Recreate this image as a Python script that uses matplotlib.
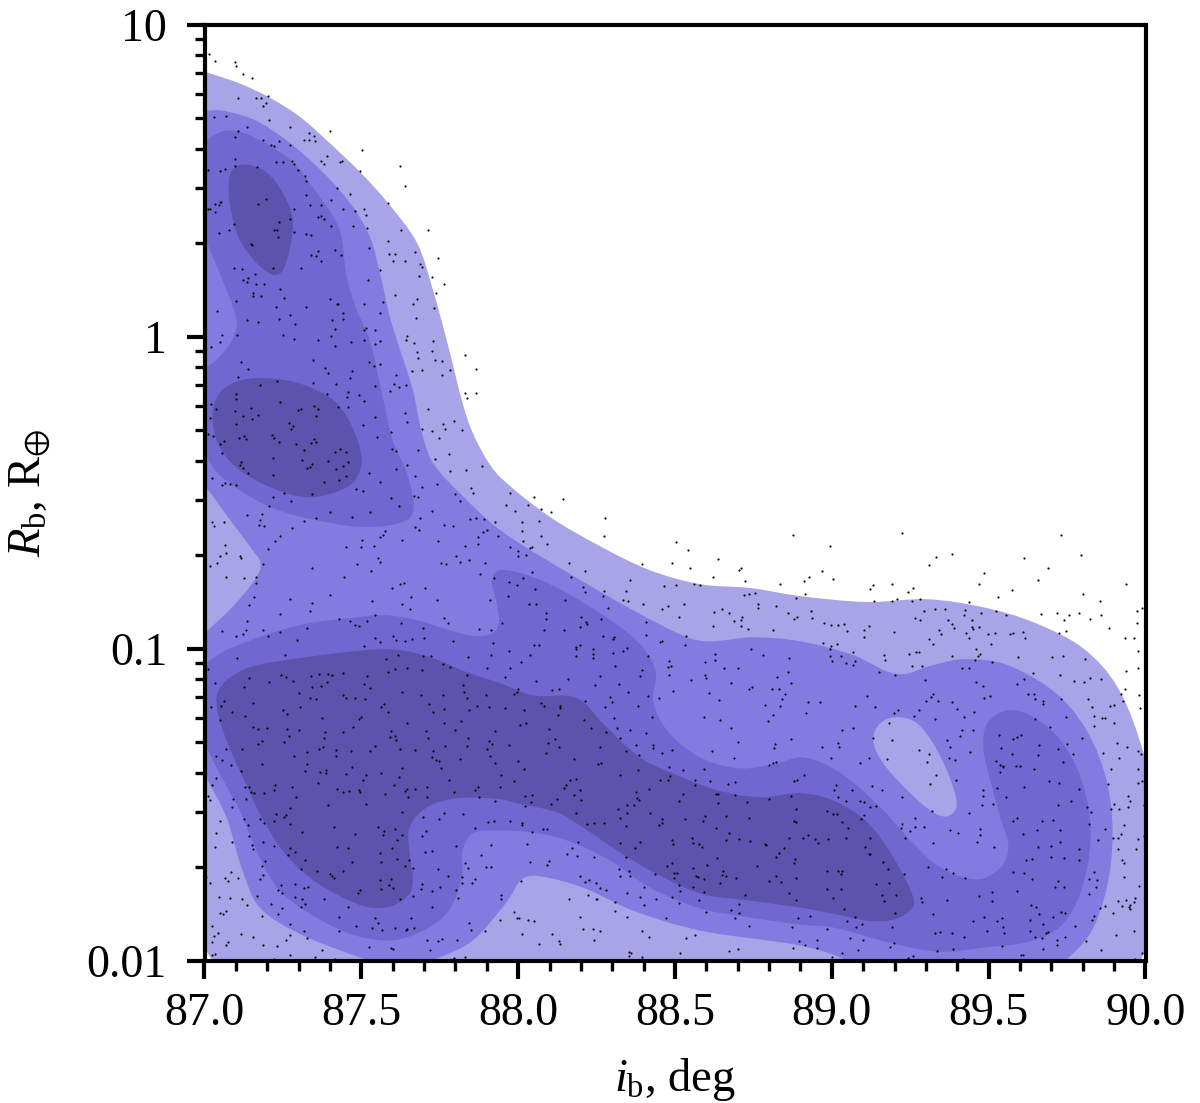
"""Inclination vs planet radius density map with posterior samples."""

import matplotlib

matplotlib.use("Agg")
import matplotlib.pyplot as plt
import numpy as np
from matplotlib.patches import PathPatch
from matplotlib.path import Path
from matplotlib.ticker import LogLocator, MultipleLocator, NullFormatter

plt.rcParams["font.family"] = ["Liberation Serif", "DejaVu Serif"]
plt.rcParams["mathtext.fontset"] = "custom"
plt.rcParams["mathtext.rm"] = "Liberation Serif"
plt.rcParams["mathtext.it"] = "Liberation Serif:italic"
plt.rcParams["mathtext.fallback"] = "stix"

# outlines are (inclination deg, log10 radius)
level1_outline = [(86.936,.868),(87.0,.849),(87.112,.811),(87.207,.766),(87.303,.705),(87.399,.62),(87.495,.528),(87.584,.429),(87.677,.301),(87.728,.15),(87.772,-.011),(87.836,-.258),(87.887,-.373),(87.942,-.45),(88.101,-.578),(88.261,-.672),(88.42,-.749),(88.58,-.794),(88.739,-.806),(88.899,-.832),(89.113,-.851),(89.304,-.842),(89.483,-.868),(89.643,-.916),(89.802,-1.0),(89.911,-1.124),(89.994,-1.336),(90.016,-1.487),(90.019,-1.679),(90.006,-1.888),(89.987,-1.994),(89.92,-2.039),(88.899,-2.048),(87.622,-2.048),(87.064,-2.039),(87.022,-1.994),(87.003,-1.962),(86.952,-1.808),(86.936,-.524)]
level2_outline = [(86.952,.724),(87.003,.724),(87.057,.724),(87.176,.686),(87.335,.567),(87.463,.429),(87.527,.32),(87.559,.204),(87.591,.063),(87.613,-.011),(87.664,-.171),(87.693,-.309),(87.728,-.405),(87.814,-.502),(87.942,-.62),(88.155,-.755),(88.366,-.877),(88.538,-.964),(88.612,-.977),(88.749,-.964),(88.899,-.977),(89.068,-1.021),(89.209,-1.082),(89.323,-1.053),(89.419,-1.034),(89.56,-1.053),(89.729,-1.156),(89.834,-1.304),(89.888,-1.487),(89.888,-1.702),(89.834,-1.894),(89.751,-1.994),(89.665,-2.048),(89.122,-2.048),(89.036,-1.994),(88.899,-1.952),(88.58,-1.904),(88.366,-1.84),(88.206,-1.766),(88.069,-1.73),(88.015,-1.737),(87.973,-1.798),(87.942,-1.84),(87.855,-1.936),(87.75,-1.99),(87.622,-2.026),(87.495,-1.99),(87.303,-1.914),(87.176,-1.83),(87.121,-1.711),(87.07,-1.541),(87.006,-1.413),(86.952,-1.294),(86.936,-.203)]
wedge_outline = [(86.952,-.428),(87.006,-.485),(87.089,-.598),(87.153,-.684),(87.179,-.726),(87.166,-.771),(87.089,-.867),(87.006,-.947),(86.952,-1.005),(86.904,-.717)]
island_outline = [(89.132,-1.294),(89.154,-1.24),(89.209,-1.22),(89.272,-1.24),(89.336,-1.327),(89.387,-1.445),(89.397,-1.509),(89.368,-1.538),(89.323,-1.525),(89.25,-1.464),(89.164,-1.368)]
level3_upper = [(86.952,.567),(87.003,.625),(87.07,.66),(87.153,.641),(87.271,.567),(87.367,.448),(87.431,.342),(87.453,.191),(87.485,.086),(87.527,-.011),(87.568,-.194),(87.6,-.332),(87.645,-.438),(87.667,-.547),(87.645,-.589),(87.517,-.611),(87.357,-.589),(87.217,-.55),(87.112,-.492),(87.038,-.434),(87.006,-.386),(86.952,-.3),(86.952,-.155),(87.006,-.101),(87.048,-.065),(87.089,-.011),(87.102,.053),(87.048,.204),(87.003,.31),(86.952,.422)]
level3_lower = [(86.952,-1.102),(87.006,-1.047),(87.089,-.996),(87.303,-.925),(87.463,-.903),(87.568,-.893),(87.677,-.909),(87.814,-.951),(87.887,-.96),(87.935,-.932),(87.932,-.855),(87.916,-.781),(87.942,-.749),(88.047,-.771),(88.155,-.822),(88.261,-.887),(88.347,-.948),(88.411,-1.015),(88.439,-1.08),(88.43,-1.167),(88.475,-1.263),(88.58,-1.349),(88.707,-1.384),(88.826,-1.368),(88.899,-1.349),(88.972,-1.368),(89.059,-1.422),(89.164,-1.519),(89.26,-1.625),(89.346,-1.702),(89.464,-1.74),(89.537,-1.702),(89.563,-1.637),(89.537,-1.541),(89.505,-1.422),(89.483,-1.317),(89.496,-1.24),(89.56,-1.198),(89.643,-1.22),(89.729,-1.294),(89.793,-1.413),(89.825,-1.573),(89.802,-1.753),(89.738,-1.881),(89.643,-1.936),(89.483,-1.959),(89.346,-1.972),(89.196,-1.946),(89.004,-1.894),(88.899,-1.885),(88.739,-1.862),(88.58,-1.833),(88.42,-1.766),(88.293,-1.679),(88.155,-1.615),(88.047,-1.59),(87.942,-1.583),(87.855,-1.593),(87.823,-1.647),(87.82,-1.734),(87.772,-1.849),(87.677,-1.914),(87.581,-1.936),(87.463,-1.914),(87.335,-1.849),(87.239,-1.775),(87.176,-1.67),(87.112,-1.519),(87.048,-1.4),(87.006,-1.317),(86.952,-1.214)]
level4_top = [(87.077,.47),(87.089,.535),(87.134,.551),(87.198,.525),(87.249,.461),(87.281,.374),(87.271,.278),(87.246,.207),(87.217,.198),(87.166,.236),(87.112,.31),(87.086,.397)]
level4_mid = [(87.026,-.258),(87.048,-.181),(87.121,-.139),(87.23,-.136),(87.335,-.162),(87.421,-.213),(87.479,-.309),(87.501,-.405),(87.472,-.469),(87.409,-.502),(87.326,-.515),(87.217,-.486),(87.112,-.428),(87.048,-.354)]
level4_band = [(87.041,-1.143),(87.07,-1.102),(87.144,-1.06),(87.303,-1.031),(87.517,-1.005),(87.622,-1.005),(87.728,-1.031),(87.836,-1.076),(87.942,-1.111),(88.047,-1.15),(88.187,-1.159),(88.27,-1.24),(88.388,-1.349),(88.506,-1.406),(88.634,-1.454),(88.771,-1.477),(88.899,-1.464),(89.004,-1.487),(89.113,-1.557),(89.196,-1.67),(89.26,-1.798),(89.256,-1.833),(89.196,-1.869),(89.113,-1.872),(89.004,-1.85),(88.899,-1.83),(88.739,-1.808),(88.58,-1.785),(88.42,-1.711),(88.315,-1.647),(88.206,-1.573),(88.123,-1.525),(87.996,-1.496),(87.942,-1.483),(87.804,-1.48),(87.709,-1.509),(87.654,-1.573),(87.654,-1.657),(87.664,-1.734),(87.654,-1.785),(87.6,-1.824),(87.527,-1.83),(87.441,-1.798),(87.335,-1.734),(87.249,-1.647),(87.176,-1.528),(87.112,-1.39),(87.07,-1.294),(87.041,-1.198)]

samples_upper = [(87.013,.907),(87.035,.882),(87.096,.879),(87.102,.866),(87.124,.84),(87.15,.827),(87.204,.772),(87.108,.763),(87.163,.763),(87.179,.763),(87.195,.747),(87.188,.74),(87.067,.708),(87.029,.702),(87.207,.695),(87.274,.67),(87.134,.67),(87.108,.66),(87.399,.66),(87.096,.641),(87.332,.651),(87.348,.644),(87.316,.631),(87.332,.631),(87.351,.628),(87.185,.631),(87.239,.628),(87.211,.615),(87.22,.609),(87.274,.615),(87.501,.599),(87.096,.57),(87.389,.577),(87.37,.561),(87.38,.554),(87.437,.564),(87.431,.558),(87.227,.558),(87.249,.558),(87.278,.561),(87.284,.554),(87.096,.548),(87.622,.548),(87.297,.535),(87.166,.542),(87.01,.535),(87.048,.529),(87.064,.538),(87.495,.529),(87.319,.513),(87.322,.5),(87.424,.477),(87.638,.481),(87.463,.458),(87.322,.452),(87.195,.442),(87.054,.432),(87.048,.432),(87.035,.426),(87.045,.42),(87.169,.426),(87.335,.423),(87.402,.436),(87.584,.429),(87.373,.42),(87.01,.41),(87.016,.41),(87.032,.4),(87.284,.41),(87.44,.41),(87.51,.41),(87.479,.403),(87.514,.391),(87.361,.384),(87.373,.387),(87.38,.378),(87.271,.378),(87.239,.368),(87.093,.362),(87.402,.355),(87.475,.355),(87.517,.349),(87.22,.342),(87.23,.342),(87.284,.336),(87.077,.342),(87.625,.342),(87.711,.342),(87.045,.333),(87.325,.33),(87.338,.326),(87.233,.32),(87.584,.307),(87.147,.298),(87.153,.294),(87.523,.285),(87.415,.278),(87.361,.275),(87.606,.265),(87.587,.265),(87.67,.272),(87.341,.262),(87.354,.259),(87.434,.262),(87.743,.253),(87.6,.243),(87.638,.243),(87.373,.243),(87.686,.233),(87.695,.224),(87.093,.221),(87.217,.221),(87.118,.217),(87.309,.221),(87.561,.214),(87.683,.195),(87.724,.192),(87.16,.201),(87.14,.188),(87.124,.182),(87.137,.176),(87.52,.182),(87.163,.169),(87.191,.169),(87.765,.169),(87.242,.153),(87.737,.14),(87.156,.14),(87.156,.131),(87.179,.131),(87.606,.134),(87.255,.124),(87.399,.121),(87.679,.121),(87.099,.115),(87.568,.111),(87.664,.105),(87.421,.105),(87.427,.105),(87.507,.105),(87.322,.095),(87.227,.095),(87.731,.092),(87.041,.082),(87.443,.076),(87.558,.076),(87.271,.07),(87.239,.057),(87.443,.057),(87.405,.054),(87.673,.06),(87.134,.054),(87.169,.047),(87.287,.041),(87.514,.028),(87.507,.022),(87.545,.022),(87.415,.025),(87.057,.005),(87.105,.005),(87.249,.005),(87.402,.002),(87.644,.002),(87.641,-.011),(87.284,-.007),(87.361,-.011),(87.51,-.011),(87.727,-.014),(87.048,-.017),(87.466,-.017),(87.558,-.014),(87.542,-.023),(87.667,-.02),(87.415,-.03),(87.022,-.033)]
samples_left = [(87.829,-.059),(87.866,-.105),(87.832,-.182),(87.865,-.182),(87.837,-.196),(87.677,-.051),(87.724,-.048),(87.68,-.07),(87.736,-.075),(87.758,-.078),(87.663,-.111),(87.692,-.108),(87.783,-.108),(87.757,-.123),(87.612,-.123),(87.603,-.151),(87.643,-.155),(87.621,-.162),(87.592,-.175),(87.544,-.16),(87.525,-.082),(87.558,-.087),(87.541,-.094),(87.346,-.074),(87.384,-.102),(87.394,-.117),(87.471,-.112),(87.464,-.133),(87.42,-.152),(87.345,-.148),(87.456,-.177),(87.453,-.194),(87.392,-.184),(87.491,-.188),(87.507,-.207),(87.459,-.226),(87.427,-.226),(87.117,-.081),(87.14,-.104),(87.108,-.13),(87.231,-.142),(87.177,-.154),(87.099,-.184),(87.099,-.199),(87.241,-.209),(87.022,-.216),(87.037,-.231),(87.098,-.238),(87.149,-.229),(87.298,-.235),(87.309,-.231),(87.349,-.223),(87.362,-.232),(87.357,-.254),(87.124,-.255),(87.17,-.251),(87.153,-.265),(87.017,-.262),(87.099,-.281),(87.268,-.276),(87.281,-.286),(87.275,-.297),(87.542,-.259),(87.505,-.285),(87.594,-.305),(87.639,-.245),(87.645,-.273),(87.711,-.232),(87.695,-.297),(87.726,-.302),(87.759,-.28),(87.795,-.27),(87.768,-.297),(87.821,-.3),(87.748,-.325),(87.01,-.313),(87.027,-.319),(87.061,-.335),(87.109,-.325),(87.126,-.319),(87.133,-.328),(87.215,-.316),(87.222,-.325),(87.239,-.337),(87.293,-.344),(87.348,-.329),(87.355,-.338),(87.34,-.342),(87.316,-.364),(87.551,-.323),(87.598,-.359),(87.612,-.366),(87.682,-.364),(87.781,-.377),(87.736,-.394),(87.05,-.346),(87.057,-.373),(87.415,-.371),(87.433,-.36),(87.45,-.371),(87.217,-.39),(87.311,-.397),(87.393,-.4),(87.458,-.403),(87.117,-.403),(87.112,-.413),(87.123,-.422),(87.139,-.436),(87.342,-.408),(87.336,-.417),(87.327,-.421),(87.418,-.426),(87.443,-.414),(87.645,-.411),(87.611,-.426),(87.784,-.432),(87.834,-.428),(87.886,-.414),(87.218,-.443),(87.526,-.436),(87.45,-.448),(87.025,-.455),(87.382,-.466),(87.43,-.461),(87.561,-.467),(87.672,-.448),(87.741,-.473),(87.693,-.481),(87.064,-.469),(87.057,-.475),(87.08,-.472),(87.099,-.475),(87.483,-.489),(87.506,-.495),(87.344,-.504),(87.252,-.503),(87.219,-.513),(87.85,-.485),(87.856,-.502),(87.799,-.505),(87.668,-.511),(87.682,-.515),(87.593,-.517),(87.276,-.526),(87.816,-.528),(87.619,-.543),(87.207,-.544),(87.724,-.559),(87.399,-.561),(87.528,-.562),(87.136,-.572),(87.184,-.57),(87.469,-.577),(87.357,-.582),(87.317,-.59),(87.176,-.589),(87.175,-.604),(87.189,-.607),(87.063,-.594),(87.025,-.594),(87.031,-.606),(87.28,-.614),(87.688,-.582),(87.848,-.585),(87.867,-.582),(87.892,-.586),(87.927,-.596),(87.763,-.604),(87.791,-.608),(87.67,-.61),(87.685,-.619),(87.576,-.622),(87.57,-.636),(87.559,-.644),(87.242,-.641),(87.224,-.656),(87.902,-.621),(87.889,-.628),(87.872,-.643),(87.873,-.666),(87.935,-.64),(87.63,-.653),(87.503,-.653),(87.746,-.655),(87.832,-.67),(87.204,-.682),(87.452,-.675),(87.5,-.675),(87.539,-.672),(87.066,-.667),(87.067,-.695),(87.05,-.705),(87.112,-.703),(87.115,-.711),(87.552,-.709),(87.561,-.724),(87.803,-.704),(87.813,-.723),(87.755,-.726),(87.769,-.73),(87.843,-.717),(87.893,-.727),(87.039,-.727),(87.016,-.735),(87.185,-.73),(87.343,-.742),(87.485,-.729),(87.53,-.75),(87.877,-.76),(87.923,-.774),(87.069,-.771),(87.126,-.774),(87.163,-.77),(87.446,-.772),(87.164,-.791),(87.622,-.794),(87.636,-.789),(87.599,-.807),(87.703,-.806),(87.159,-.836),(87.272,-.842),(87.4,-.827),(87.658,-.835),(87.742,-.846),(87.909,-.846),(87.533,-.849),(87.344,-.855),(87.143,-.861),(87.631,-.857),(87.655,-.872),(87.335,-.879),(87.241,-.889),(87.545,-.892),(87.428,-.907),(87.465,-.912),(87.519,-.913),(87.765,-.902),(87.777,-.918),(87.628,-.918),(87.481,-.926),(87.491,-.928),(87.136,-.913),(87.327,-.935),(87.875,-.937),(87.697,-.934),(87.914,-.942),(87.056,-.944),(87.131,-.942),(87.188,-.941),(87.242,-.948),(87.123,-.953),(87.101,-.96),(87.201,-.96),(87.601,-.961),(87.545,-.965),(87.294,-.973),(87.561,-.979),(87.612,-.973),(87.64,-.975),(87.663,-.968),(87.7,-.967),(87.791,-.977),(87.919,-.983),(87.507,-.992)]
samples_centre = [(88.049,-.514),(88.144,-.522),(87.974,-.502),(87.96,-.541),(88.032,-.539),(88.074,-.553),(88.106,-.562),(87.991,-.559),(88.278,-.582),(88.065,-.59),(88.011,-.594),(88.012,-.623),(88.074,-.639),(88.273,-.64),(88.014,-.655),(88.093,-.665),(88.504,-.659),(88.541,-.685),(88.875,-.637),(88.637,-.713),(87.973,-.675),(88.037,-.678),(88.045,-.675),(87.998,-.687),(88.0,-.704),(88.024,-.7),(88.161,-.727),(88.394,-.73),(88.49,-.725),(88.547,-.743),(88.712,-.741),(88.705,-.749),(88.214,-.751),(88.044,-.755),(88.62,-.771),(88.167,-.771),(88.355,-.781),(88.724,-.784),(87.972,-.787),(88.016,-.775),(87.997,-.797),(88.835,-.794),(88.562,-.794),(88.581,-.795),(88.504,-.796),(88.466,-.8),(88.206,-.804),(88.055,-.809),(88.275,-.815),(88.214,-.82),(88.344,-.816),(88.721,-.83),(88.737,-.825),(88.756,-.823),(87.968,-.833),(88.269,-.832),(88.887,-.838),(88.149,-.846),(88.333,-.846),(88.351,-.848),(88.033,-.857),(88.058,-.856),(88.397,-.857),(88.529,-.856),(88.764,-.856),(88.821,-.864),(88.285,-.869),(88.459,-.872),(88.479,-.865),(88.764,-.87),(88.623,-.884),(88.649,-.874),(88.671,-.887),(88.859,-.885),(88.09,-.885),(88.2,-.9),(88.512,-.898),(88.715,-.9),(88.889,-.899),(88.879,-.907),(88.09,-.906),(88.263,-.904),(88.689,-.913),(88.709,-.91),(87.95,-.919),(88.215,-.916),(88.218,-.923),(88.409,-.916),(88.62,-.928),(88.71,-.929),(88.196,-.931),(88.081,-.94),(88.147,-.94),(88.732,-.939),(88.813,-.94),(88.269,-.959),(88.307,-.963),(88.303,-.97),(88.409,-.958),(88.534,-.961),(88.46,-.975),(88.451,-.98),(88.531,-.99),(88.049,-.99),(88.065,-.99),(88.198,-.99),(88.183,-.994),(88.183,-1.003),(88.24,-1.0),(88.346,-.999),(88.741,-1.003),(87.97,-1.007),(88.333,-1.008),(88.302,-1.013),(88.627,-1.019),(88.037,-1.021),(88.237,-1.019),(88.237,-1.03),(88.183,-1.025),(88.415,-1.024),(88.78,-1.022),(88.865,-1.032),(88.628,-1.036),(88.48,-1.039),(88.595,-1.044),(88.008,-1.044),(88.308,-1.055),(88.486,-1.056),(88.478,-1.06),(88.702,-1.061),(88.656,-1.063),(87.973,-1.063),(88.396,-1.069),(88.859,-1.074),(88.48,-1.085),(88.387,-1.087),(88.595,-1.086),(88.599,-1.096),(88.26,-1.088),(87.959,-1.092),(88.826,-1.09),(88.159,-1.098),(88.057,-1.104),(88.551,-1.1),(88.677,-1.11),(88.869,-1.112),(88.244,-1.116),(88.321,-1.114),(88.747,-1.122),(88.737,-1.129),(88.808,-1.13),(88.831,-1.129),(88.0,-1.13),(88.129,-1.129),(88.109,-1.132),(88.493,-1.136),(88.349,-1.139),(87.997,-1.141),(87.987,-1.146),(88.609,-1.142),(88.851,-1.147),(88.293,-1.154),(88.413,-1.153),(88.449,-1.158),(88.842,-1.161),(88.641,-1.166),(88.214,-1.167),(88.298,-1.172),(88.072,-1.175),(88.133,-1.183),(88.083,-1.185),(88.132,-1.191),(88.787,-1.182),(88.835,-1.185),(88.382,-1.184),(88.278,-1.189),(87.958,-1.192)]
samples_lower_left = [(87.105,-1.032),(87.257,-1.022),(87.616,-1.02),(87.579,-1.035),(87.697,-1.025),(87.723,-1.025),(87.914,-1.021),(87.841,-1.028),(87.012,-1.067),(87.143,-1.094),(87.244,-1.084),(87.259,-1.092),(87.338,-1.087),(87.366,-1.082),(87.395,-1.083),(87.407,-1.086),(87.441,-1.077),(87.517,-1.087),(87.585,-1.076),(87.606,-1.067),(87.646,-1.063),(87.694,-1.068),(87.761,-1.05),(87.783,-1.06),(87.9,-1.063),(87.837,-1.085),(87.032,-1.109),(87.126,-1.123),(87.207,-1.106),(87.281,-1.103),(87.343,-1.123),(87.389,-1.106),(87.373,-1.119),(87.507,-1.113),(87.529,-1.126),(87.824,-1.118),(87.302,-1.144),(87.443,-1.148),(87.452,-1.16),(87.479,-1.16),(87.513,-1.162),(87.631,-1.141),(87.691,-1.149),(87.761,-1.149),(87.826,-1.141),(87.898,-1.149),(87.337,-1.159),(87.357,-1.161),(87.063,-1.169),(87.156,-1.175),(87.053,-1.185),(87.021,-1.189),(87.838,-1.16),(87.716,-1.177),(87.571,-1.179),(87.563,-1.188),(87.303,-1.188),(87.868,-1.185),(87.906,-1.189),(87.088,-1.202),(87.25,-1.198),(87.262,-1.21),(87.585,-1.202),(87.763,-1.195),(87.727,-1.205),(87.842,-1.198),(87.13,-1.216),(87.5,-1.218),(87.492,-1.226),(87.375,-1.224),(87.048,-1.23),(87.818,-1.231),(87.646,-1.24),(87.763,-1.239),(87.154,-1.252),(87.172,-1.257),(87.2,-1.255),(87.264,-1.259),(87.302,-1.26),(87.474,-1.253),(87.385,-1.267),(87.44,-1.269),(87.596,-1.265),(87.706,-1.263),(87.8,-1.262),(87.926,-1.266),(87.269,-1.279),(87.59,-1.283),(87.608,-1.281),(87.711,-1.286),(87.839,-1.286),(87.381,-1.288),(87.609,-1.293),(87.184,-1.298),(87.252,-1.301),(87.17,-1.306),(87.907,-1.297),(87.915,-1.305),(87.545,-1.313),(87.766,-1.312),(87.838,-1.312),(87.377,-1.316),(87.067,-1.321),(87.121,-1.323),(87.366,-1.323),(87.42,-1.325),(87.466,-1.329),(87.528,-1.327),(87.624,-1.321),(87.672,-1.324),(87.728,-1.327),(87.9,-1.322),(87.328,-1.332),(87.286,-1.343),(87.42,-1.344),(87.036,-1.344),(87.725,-1.348),(87.909,-1.346),(87.057,-1.358),(87.737,-1.357),(87.748,-1.36),(87.816,-1.354),(87.183,-1.369),(87.085,-1.372),(87.327,-1.371),(87.925,-1.367),(87.469,-1.379),(87.631,-1.384),(87.755,-1.383),(87.115,-1.392),(87.319,-1.393),(87.367,-1.395),(87.387,-1.389),(87.387,-1.399),(87.564,-1.399),(87.452,-1.403),(87.516,-1.407),(87.619,-1.413),(87.038,-1.416),(87.504,-1.423),(87.363,-1.43),(87.778,-1.423),(87.225,-1.437),(87.605,-1.437),(87.025,-1.438),(87.128,-1.445),(87.143,-1.445),(87.28,-1.445),(87.71,-1.445),(87.871,-1.445),(87.22,-1.453),(87.423,-1.451),(87.442,-1.459),(87.462,-1.458),(87.494,-1.453),(87.496,-1.461),(87.638,-1.456),(87.646,-1.451),(87.67,-1.45),(87.797,-1.459),(87.861,-1.455),(87.148,-1.46),(87.158,-1.462),(87.191,-1.464),(87.576,-1.465),(87.293,-1.475),(87.648,-1.475),(87.708,-1.477),(87.876,-1.476),(87.012,-1.474),(87.016,-1.484),(87.133,-1.481),(87.091,-1.483),(87.927,-1.49),(87.394,-1.5),(87.516,-1.499),(87.087,-1.509),(87.273,-1.51),(87.228,-1.529),(87.631,-1.524),(87.765,-1.527),(87.824,-1.529),(87.252,-1.539),(87.261,-1.535),(87.126,-1.545),(87.176,-1.547),(87.223,-1.552),(87.049,-1.554),(87.189,-1.56),(87.271,-1.561),(87.14,-1.565),(87.697,-1.541),(87.749,-1.545),(87.904,-1.555),(87.924,-1.554),(87.413,-1.572),(87.554,-1.572),(87.861,-1.574),(87.606,-1.58),(87.571,-1.586),(87.705,-1.584),(87.311,-1.589),(87.038,-1.592),(87.481,-1.596),(87.568,-1.599),(87.631,-1.599),(87.694,-1.6),(87.143,-1.602),(87.087,-1.619),(87.615,-1.613),(87.188,-1.62),(87.153,-1.631),(87.222,-1.632),(87.032,-1.635),(87.912,-1.629),(87.803,-1.632),(87.421,-1.636),(87.459,-1.638),(87.597,-1.639),(87.273,-1.638),(87.154,-1.642),(87.287,-1.653),(87.726,-1.648),(87.703,-1.653),(87.561,-1.654),(87.266,-1.662),(87.882,-1.662),(87.32,-1.677),(87.613,-1.676),(87.652,-1.677),(87.194,-1.681),(87.471,-1.683),(87.563,-1.685),(87.829,-1.689),(87.183,-1.696),(87.896,-1.7),(87.912,-1.7),(87.005,-1.731),(87.309,-1.708),(87.36,-1.712),(87.44,-1.712),(87.665,-1.702),(87.638,-1.698),(87.841,-1.704),(87.743,-1.708),(87.086,-1.716),(87.399,-1.722),(87.406,-1.73),(87.413,-1.734),(87.187,-1.725),(87.777,-1.728),(87.064,-1.735),(87.106,-1.737),(87.176,-1.739),(87.558,-1.741),(87.593,-1.739),(87.821,-1.733),(87.863,-1.738),(87.075,-1.744),(87.017,-1.75),(87.29,-1.755),(87.587,-1.758),(87.821,-1.753),(87.854,-1.751),(87.243,-1.758),(87.695,-1.754),(87.318,-1.767),(87.33,-1.765),(87.602,-1.767),(87.75,-1.764),(87.689,-1.77),(87.496,-1.773),(87.564,-1.772),(87.233,-1.774),(87.803,-1.773),(87.726,-1.776),(87.248,-1.785),(87.49,-1.785),(87.166,-1.794),(87.666,-1.794),(87.045,-1.796),(87.082,-1.799),(87.287,-1.797),(87.809,-1.799),(87.121,-1.802),(87.312,-1.804),(87.382,-1.803),(87.622,-1.804),(87.211,-1.82),(87.32,-1.819),(87.137,-1.823),(87.308,-1.829),(87.246,-1.831),(87.456,-1.83),(87.725,-1.83),(87.069,-1.841),(87.048,-1.847),(87.058,-1.852),(87.233,-1.85),(87.182,-1.857),(87.429,-1.859),(87.542,-1.863),(87.659,-1.864),(87.554,-1.881),(87.842,-1.879),(87.273,-1.884),(87.483,-1.888),(87.023,-1.889),(87.534,-1.897),(87.606,-1.897),(87.645,-1.898),(87.669,-1.896),(87.567,-1.903),(87.643,-1.903),(87.851,-1.902),(87.318,-1.905),(87.43,-1.905),(87.895,-1.907),(87.042,-1.911),(87.116,-1.914),(87.271,-1.918),(87.029,-1.923),(87.154,-1.925),(87.326,-1.928),(87.259,-1.933),(87.708,-1.934),(87.757,-1.932),(87.744,-1.937),(87.804,-1.934),(87.025,-1.942),(87.075,-1.942),(87.068,-1.95),(87.186,-1.949),(87.231,-1.955),(87.525,-1.956),(87.596,-1.959),(87.602,-1.964),(87.374,-1.966),(87.719,-1.966),(87.033,-1.978),(87.025,-1.983),(87.274,-1.981),(87.353,-1.99),(87.223,-1.995),(87.415,-1.996),(87.796,-1.992),(87.831,-1.99)]
samples_lower_centre = [(88.126,-1.214),(88.02,-1.198),(88.209,-1.228),(88.305,-1.223),(88.427,-1.22),(88.593,-1.22),(88.645,-1.23),(88.797,-1.233),(88.813,-1.213),(88.007,-1.246),(88.025,-1.24),(88.098,-1.259),(88.231,-1.256),(88.315,-1.256),(88.358,-1.26),(88.677,-1.256),(88.28,-1.269),(88.409,-1.27),(88.119,-1.291),(88.324,-1.286),(88.871,-1.289),(88.702,-1.299),(88.095,-1.303),(87.972,-1.309),(88.377,-1.308),(88.429,-1.308),(88.818,-1.307),(88.129,-1.316),(88.26,-1.317),(88.43,-1.319),(88.49,-1.324),(88.815,-1.318),(88.345,-1.329),(88.617,-1.328),(88.088,-1.335),(88.458,-1.335),(88.386,-1.341),(88.179,-1.353),(88.689,-1.352),(87.998,-1.361),(88.255,-1.369),(88.263,-1.366),(88.799,-1.373),(88.812,-1.367),(88.822,-1.363),(88.018,-1.387),(88.482,-1.381),(88.381,-1.389),(88.527,-1.39),(88.594,-1.387),(88.326,-1.405),(87.945,-1.404),(88.485,-1.41),(88.184,-1.419),(88.166,-1.423),(87.988,-1.426),(88.451,-1.421),(88.477,-1.421),(88.563,-1.42),(88.613,-1.424),(88.69,-1.427),(88.88,-1.424),(88.889,-1.42),(88.151,-1.438),(88.563,-1.436),(88.669,-1.434),(87.943,-1.443),(88.145,-1.448),(88.416,-1.45),(88.196,-1.454),(88.377,-1.461),(88.524,-1.467),(88.63,-1.466),(88.637,-1.465),(88.69,-1.471),(88.023,-1.472),(88.044,-1.471),(88.177,-1.471),(88.871,-1.474),(88.379,-1.48),(88.386,-1.485),(88.799,-1.481),(88.123,-1.482),(88.2,-1.487),(88.512,-1.489),(88.73,-1.491),(88.041,-1.491),(88.104,-1.498),(88.346,-1.5),(88.368,-1.503),(88.636,-1.496),(88.021,-1.506),(88.317,-1.516),(88.885,-1.515),(88.184,-1.527),(88.347,-1.528),(88.419,-1.527),(88.324,-1.543),(88.595,-1.538),(88.663,-1.538),(88.735,-1.542),(88.458,-1.547),(88.533,-1.547),(88.588,-1.552),(88.879,-1.552),(88.887,-1.555),(87.973,-1.553),(88.012,-1.558),(88.011,-1.567),(88.241,-1.558),(88.275,-1.56),(88.219,-1.562),(88.457,-1.56),(88.448,-1.566),(88.345,-1.569),(88.632,-1.575),(88.078,-1.58),(88.092,-1.577),(88.044,-1.589),(88.673,-1.591),(88.863,-1.607),(88.703,-1.609),(88.555,-1.608),(88.49,-1.615),(88.664,-1.615),(88.74,-1.616),(88.191,-1.619),(88.324,-1.622),(88.39,-1.619),(88.494,-1.625),(88.558,-1.624),(88.577,-1.628),(88.786,-1.625),(88.791,-1.631),(88.029,-1.625),(88.585,-1.637),(88.171,-1.638),(88.371,-1.64),(88.847,-1.638),(88.832,-1.655),(88.155,-1.659),(88.187,-1.666),(88.345,-1.667),(88.241,-1.669),(88.821,-1.668),(88.635,-1.672),(88.882,-1.674),(88.097,-1.682),(88.037,-1.684),(88.492,-1.687),(88.878,-1.689),(88.601,-1.694),(88.091,-1.695),(88.474,-1.698),(88.76,-1.697),(88.323,-1.706),(88.558,-1.705),(88.353,-1.712),(88.653,-1.712),(88.498,-1.718),(88.507,-1.718),(88.435,-1.723),(88.198,-1.728),(88.325,-1.729),(88.356,-1.728),(88.568,-1.728),(88.651,-1.727),(88.662,-1.728),(88.821,-1.729),(88.573,-1.733),(88.496,-1.736),(88.591,-1.74),(88.694,-1.737),(88.885,-1.734),(88.226,-1.743),(88.214,-1.747),(88.009,-1.746),(88.248,-1.75),(88.644,-1.751),(88.8,-1.746),(88.837,-1.748),(88.514,-1.757),(88.26,-1.767),(88.279,-1.773),(88.4,-1.766),(88.556,-1.766),(88.515,-1.778),(88.346,-1.783),(88.594,-1.782),(88.863,-1.783),(88.722,-1.789),(88.222,-1.79),(87.946,-1.789),(88.491,-1.795),(88.39,-1.796),(88.161,-1.804),(87.945,-1.804),(88.248,-1.802),(88.251,-1.804),(88.441,-1.804),(88.578,-1.807),(88.885,-1.805),(88.31,-1.811),(88.512,-1.815),(88.402,-1.821),(88.705,-1.818),(88.679,-1.837),(88.308,-1.84),(87.987,-1.845),(88.599,-1.846),(88.703,-1.849),(87.995,-1.863),(88.003,-1.864),(88.196,-1.862),(88.346,-1.859),(88.47,-1.865),(88.691,-1.865),(88.892,-1.864),(88.031,-1.869),(88.052,-1.872),(87.943,-1.871),(88.735,-1.89),(88.872,-1.894),(88.208,-1.9),(88.237,-1.898),(88.26,-1.905),(88.395,-1.906),(88.011,-1.915),(88.109,-1.915),(88.564,-1.917),(88.418,-1.924),(88.535,-1.927),(88.242,-1.933),(88.131,-1.936),(88.065,-1.947),(88.134,-1.947),(88.895,-1.938),(88.701,-1.962),(88.875,-1.959),(88.671,-1.971),(88.353,-1.974),(88.361,-1.977),(88.352,-1.985),(88.515,-1.975),(88.394,-1.99)]
samples_right = [(89.225,-.629),(89.73,-.637),(88.993,-.672),(89.794,-.701),(89.383,-.698),(89.332,-.708),(89.612,-.71),(89.311,-.733),(89.69,-.741),(88.97,-.753),(89.486,-.757),(88.927,-.771),(89.003,-.778),(89.658,-.78),(88.91,-.784),(89.47,-.792),(89.13,-.795),(89.192,-.793),(89.939,-.792),(89.123,-.808),(89.258,-.806),(89.574,-.812),(89.242,-.82),(89.802,-.826),(88.916,-.826),(89.529,-.835),(89.208,-.84),(89.257,-.847),(89.28,-.842),(89.134,-.848),(89.192,-.849),(89.437,-.85),(89.854,-.849),(89.988,-.87),(89.972,-.879),(88.933,-.879),(89.293,-.879),(89.33,-.873),(89.36,-.873),(89.423,-.878),(89.524,-.879),(89.475,-.885),(89.667,-.888),(89.719,-.887),(89.789,-.887),(89.555,-.893),(89.755,-.893),(89.858,-.894),(89.422,-.893),(89.266,-.902),(88.936,-.902),(89.28,-.909),(89.823,-.906),(89.739,-.909),(89.447,-.91),(89.369,-.909),(88.976,-.919),(89.04,-.92),(88.997,-.925),(89.021,-.925),(89.972,-.918),(89.382,-.922),(89.39,-.934),(89.447,-.93),(89.468,-.932),(89.45,-.938),(89.884,-.934),(89.117,-.928),(89.101,-.94),(89.049,-.945),(89.198,-.947),(89.342,-.941),(89.349,-.953),(89.427,-.951),(89.499,-.953),(89.519,-.949),(89.567,-.953),(89.579,-.949),(89.608,-.948),(89.724,-.949),(89.748,-.945),(89.101,-.962),(89.438,-.965),(89.31,-.968),(89.616,-.965),(89.934,-.965),(89.964,-.967),(88.971,-.981),(89.322,-.986),(89.507,-.986),(88.996,-.991),(89.015,-.987),(89.977,-1.007),(88.995,-1.003),(89.459,-1.002),(89.068,-1.01),(89.267,-1.012),(89.279,-1.011),(89.165,-1.02),(89.246,-1.019),(89.382,-1.024),(89.465,-1.025),(89.473,-1.018),(89.703,-1.028),(89.736,-1.025),(88.993,-1.024),(89.029,-1.024),(89.458,-1.038),(89.594,-1.028),(89.808,-1.035),(89.002,-1.04),(89.17,-1.038),(89.073,-1.041),(89.067,-1.052),(89.045,-1.048),(89.511,-1.044),(89.256,-1.056),(89.289,-1.055),(89.415,-1.064),(89.437,-1.062),(89.977,-1.062),(89.937,-1.071),(89.149,-1.075),(89.642,-1.078),(89.201,-1.086),(89.728,-1.085),(89.823,-1.096),(89.857,-1.099),(89.772,-1.104),(89.805,-1.107),(89.297,-1.102),(89.614,-1.099),(89.461,-1.106),(89.482,-1.12),(89.59,-1.114),(89.934,-1.129),(89.921,-1.146),(89.979,-1.149),(89.625,-1.146),(89.644,-1.146),(89.321,-1.146),(89.315,-1.154),(89.113,-1.152),(89.504,-1.153),(89.484,-1.16),(89.648,-1.161),(89.732,-1.163),(89.816,-1.163),(89.927,-1.168),(89.301,-1.169),(89.337,-1.169),(89.383,-1.171),(89.673,-1.168),(89.672,-1.178),(89.887,-1.185),(89.898,-1.182),(89.828,-1.186),(88.924,-1.172),(88.962,-1.172),(89.074,-1.185),(89.137,-1.188),(89.399,-1.195),(89.984,-1.192),(89.278,-1.198),(89.452,-1.205),(89.212,-1.198),(89.197,-1.207),(88.919,-1.206),(89.262,-1.217),(89.42,-1.218),(89.836,-1.215),(89.746,-1.219),(89.329,-1.227),(89.647,-1.226),(89.86,-1.223),(89.872,-1.223),(89.067,-1.255),(89.033,-1.261),(89.181,-1.24),(89.898,-1.239),(89.837,-1.247),(89.697,-1.251),(89.415,-1.262),(89.451,-1.261),(89.409,-1.28),(89.534,-1.277),(89.603,-1.278),(89.589,-1.284),(89.577,-1.29),(89.13,-1.286),(89.799,-1.287),(89.191,-1.293),(89.366,-1.292),(89.019,-1.304),(89.909,-1.303),(89.661,-1.309),(89.749,-1.307),(89.022,-1.316),(88.97,-1.315),(89.377,-1.317),(89.54,-1.318),(89.942,-1.317),(89.277,-1.324),(89.722,-1.323),(89.439,-1.332),(89.865,-1.334),(89.975,-1.33),(89.985,-1.339),(89.574,-1.339),(89.309,-1.337),(89.656,-1.341),(89.769,-1.339),(88.997,-1.35),(89.118,-1.351),(89.373,-1.351),(89.392,-1.358),(89.175,-1.354),(89.523,-1.359),(89.915,-1.352),(89.302,-1.365),(89.089,-1.366),(89.737,-1.365),(89.536,-1.374),(89.545,-1.375),(89.545,-1.38),(89.588,-1.375),(89.601,-1.378),(89.645,-1.387),(89.537,-1.396),(89.89,-1.385),(89.977,-1.387),(89.331,-1.407),(88.911,-1.407),(89.397,-1.421),(89.691,-1.425),(89.988,-1.425),(89.975,-1.432),(89.724,-1.432),(89.882,-1.435),(89.012,-1.437),(89.312,-1.435),(89.127,-1.441),(89.614,-1.445),(89.525,-1.446),(89.789,-1.451),(89.006,-1.455),(89.064,-1.454),(89.159,-1.454),(89.482,-1.455),(89.944,-1.473),(89.019,-1.476),(89.225,-1.477),(89.482,-1.473),(89.555,-1.476),(89.951,-1.49),(89.089,-1.49),(89.103,-1.491),(89.044,-1.49),(89.9,-1.497),(89.478,-1.5),(89.513,-1.499),(89.722,-1.502),(89.761,-1.489),(89.141,-1.505),(89.944,-1.509),(89.996,-1.502),(89.812,-1.507),(89.121,-1.509),(89.889,-1.514),(89.917,-1.514),(89.318,-1.522),(89.825,-1.524),(88.985,-1.52),(89.436,-1.527),(89.004,-1.531),(89.017,-1.531),(89.103,-1.535),(89.094,-1.547),(89.591,-1.542),(89.579,-1.554),(89.67,-1.553),(89.704,-1.55),(89.031,-1.555),(89.821,-1.564),(89.931,-1.567),(89.265,-1.542),(89.293,-1.572),(89.265,-1.572),(89.225,-1.563),(89.222,-1.574),(89.248,-1.585),(89.053,-1.576),(89.377,-1.581),(89.401,-1.59),(89.471,-1.578),(89.87,-1.58),(89.654,-1.583),(89.729,-1.582),(89.473,-1.597),(89.923,-1.595),(89.609,-1.595),(89.996,-1.601),(89.234,-1.607),(89.896,-1.607),(89.912,-1.608),(89.976,-1.609),(89.121,-1.607),(89.046,-1.608),(88.925,-1.599),(88.909,-1.608),(88.946,-1.61),(88.955,-1.622),(88.989,-1.61),(89.85,-1.613),(89.462,-1.619),(89.727,-1.619),(89.321,-1.624),(89.106,-1.636),(89.517,-1.637),(89.657,-1.637),(89.698,-1.634),(89.912,-1.643),(89.787,-1.643),(89.97,-1.644),(89.118,-1.658),(89.123,-1.659),(89.698,-1.669),(89.638,-1.674),(89.618,-1.679),(89.739,-1.673),(89.787,-1.679),(89.926,-1.677),(89.93,-1.686),(89.164,-1.685),(89.305,-1.699),(89.364,-1.706),(89.179,-1.706),(88.983,-1.712),(89.021,-1.713),(89.032,-1.713),(89.028,-1.722),(89.229,-1.722),(89.387,-1.72),(89.577,-1.716),(89.612,-1.72),(89.836,-1.715),(89.351,-1.733),(89.426,-1.736),(89.638,-1.738),(89.932,-1.733),(89.819,-1.74),(89.846,-1.741),(89.721,-1.746),(89.181,-1.752),(89.141,-1.756),(89.979,-1.76),(89.71,-1.764),(89.739,-1.763),(89.842,-1.765),(88.986,-1.771),(89.03,-1.771),(89.589,-1.776),(89.512,-1.781),(89.821,-1.787),(89.468,-1.794),(89.159,-1.791),(89.204,-1.791),(89.005,-1.801),(89.284,-1.801),(89.968,-1.8),(89.367,-1.805),(89.51,-1.809),(89.165,-1.81),(89.289,-1.814),(89.913,-1.808),(89.938,-1.805),(89.963,-1.812),(89.949,-1.821),(89.926,-1.826),(89.946,-1.827),(89.87,-1.826),(89.634,-1.823),(89.65,-1.828),(89.854,-1.832),(89.038,-1.835),(89.952,-1.836),(89.731,-1.843),(89.662,-1.85),(89.743,-1.849),(89.321,-1.85),(89.201,-1.849),(89.897,-1.849),(89.835,-1.856),(89.486,-1.859),(89.704,-1.859),(89.542,-1.864),(88.93,-1.858),(89.073,-1.86),(89.527,-1.873),(89.632,-1.869),(89.45,-1.873),(89.049,-1.873),(89.829,-1.869),(89.095,-1.882),(89.674,-1.883),(89.775,-1.888),(89.076,-1.894),(89.193,-1.894),(88.983,-1.9),(89.545,-1.893),(89.496,-1.905),(89.632,-1.906),(89.964,-1.904),(89.33,-1.912),(89.346,-1.908),(89.383,-1.911),(89.549,-1.911),(89.682,-1.913),(89.688,-1.91),(89.906,-1.918),(89.057,-1.928),(89.42,-1.926),(89.647,-1.925),(89.669,-1.928),(89.719,-1.933),(89.743,-1.926),(88.954,-1.935),(89.099,-1.935),(89.811,-1.936),(89.199,-1.943),(88.916,-1.949),(89.718,-1.95),(89.542,-1.952),(89.185,-1.958),(88.953,-1.96),(89.386,-1.963),(89.082,-1.965),(89.674,-1.963),(89.033,-1.975),(89.336,-1.971),(89.857,-1.967),(89.258,-1.985),(89.602,-1.981),(89.608,-1.983),(89.002,-1.988),(89.989,-1.975),(89.243,-1.992),(89.417,-1.994),(89.966,-1.994)]

x_major = [87.0, 87.5, 88.0, 88.5, 89.0, 89.5, 90.0]
x_labels = ["87.0", "87.5", "88.0", "88.5", "89.0", "89.5", "90.0"]
y_major = [0.01, 0.1, 1, 10]
y_labels = ["0.01", "0.1", "1", "10"]


def smooth_outline(outline):
	# closed bezier through the outline points, y back to linear radius
	pts = np.array(outline, dtype=float)
	nxt = np.roll(pts, -1, axis=0)
	prv = np.roll(pts, 1, axis=0)
	tangent = nxt - prv
	tangent = tangent / np.linalg.norm(tangent, axis=1, keepdims=True)
	seg = np.linalg.norm(nxt - pts, axis=1, keepdims=True)
	c1 = pts + tangent * seg / 3
	c2 = nxt - np.roll(tangent, -1, axis=0) * seg / 3
	verts = [pts[0]]
	codes = [Path.MOVETO]
	for a, b, c in zip(c1, c2, nxt):
		verts += [a, b, c]
		codes += [Path.CURVE4] * 3
	verts = np.array(verts)
	verts[:, 1] = 10 ** verts[:, 1]
	return Path(verts, codes)


def main():
	fig = plt.figure(figsize=(12, 11.03), dpi=100)
	ax = fig.add_axes([204.5 / 1200, 142.5 / 1103, 941 / 1200, 936 / 1103])
	ax.set_yscale("log")

	layers = [
		(level1_outline, "#a9a3e8"),
		(level2_outline, "#857ae0"),
		(wedge_outline, "#a9a3e8"),
		(island_outline, "#a9a3e8"),
		(level3_upper, "#7266d1"),
		(level3_lower, "#7266d1"),
		(level4_top, "#5d52ac"),
		(level4_mid, "#5d52ac"),
		(level4_band, "#5d52ac"),
	]
	for outline, color in layers:
		ax.add_patch(PathPatch(smooth_outline(outline), facecolor=color, edgecolor="none", linewidth=0))

	groups = [samples_upper, samples_left, samples_centre, samples_lower_left, samples_lower_centre, samples_right]
	samples = np.array([p for group in groups for p in group])
	ax.scatter(samples[:, 0], 10 ** samples[:, 1], s=2.4, c="black", linewidths=0, zorder=3)

	ax.set_xlim(87, 90)
	ax.set_ylim(0.01, 10)
	ax.set_xticks(x_major, labels=x_labels)
	ax.set_yticks(y_major, labels=y_labels)
	ax.xaxis.set_minor_locator(MultipleLocator(0.1))
	ax.xaxis.set_minor_formatter(NullFormatter())
	ax.yaxis.set_minor_locator(LogLocator(base=10, subs=range(2, 10), numticks=12))
	ax.yaxis.set_minor_formatter(NullFormatter())
	ax.tick_params(axis="x", which="major", length=13, width=3, labelsize=33, pad=10)
	ax.tick_params(axis="y", which="major", length=13, width=3, labelsize=33, pad=14)
	ax.tick_params(which="minor", length=7.5, width=2.4)
	for spine in ax.spines.values():
		spine.set_linewidth(3)
		spine.set_zorder(5)

	ax.set_xlabel(r"$\mathit{i}_{\mathrm{b}}$, deg", fontsize=33.5)
	ax.set_ylabel(r"$\mathit{R}_{\mathrm{b}}$, R$_{\oplus}$", fontsize=33.5)
	ax.xaxis.set_label_coords(0.5, -0.1015)
	ax.yaxis.set_label_coords(-0.161, 0.5)

	fig.savefig("out.png", dpi=100)


if __name__ == "__main__":
	main()
